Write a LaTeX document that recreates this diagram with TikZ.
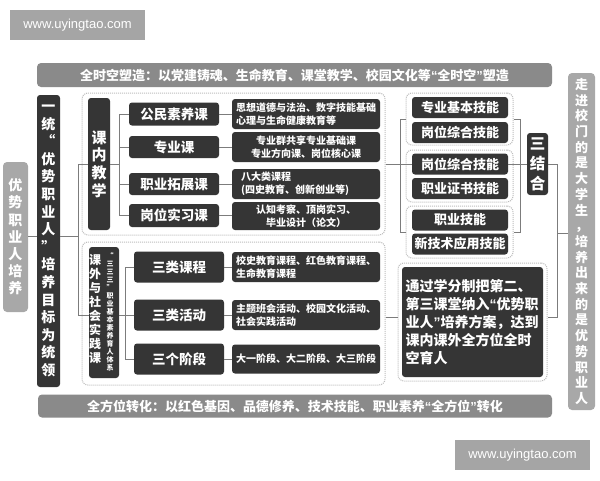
\documentclass[tikz,border=0pt]{standalone}
\usepackage{fontspec}
\setmainfont{Noto Sans CJK SC}
\newfontfamily\wmfont{Liberation Sans}
\newcommand\myqo{{\wmfont\bfseries “}}
\newcommand\myqc{{\wmfont\bfseries ”}}
\definecolor{dk}{HTML}{353535}
\definecolor{bn}{HTML}{8A8A8A}
\definecolor{lt}{HTML}{A8A8A8}
\definecolor{wm}{HTML}{A5A5A5}
\definecolor{ln}{HTML}{7C7C7C}
\definecolor{gp}{HTML}{BDBDBD}
\begin{document}
\begin{tikzpicture}[x=1pt,y=-1pt,
  dark/.style={fill=dk, rounded corners=3pt, text=white, inner sep=0pt, align=center},
  banner/.style={fill=bn, rounded corners=4pt, text=white, inner sep=0pt, font=\fontsize{13}{15}\selectfont\bfseries},
  light/.style={fill=lt, rounded corners=4pt, text=white, inner sep=0pt, align=center},
  wmbox/.style={fill=wm, text=white, inner sep=0pt, font=\wmfont\fontsize{13}{15}\selectfont},
  conn/.style={draw=ln, line width=0.9pt},
  grp/.style={draw=gp, densely dotted, line width=1pt, rounded corners=6pt, inner sep=0pt},
  course/.style={dark, minimum width=90, font=\fontsize{13.5}{16}\selectfont\bfseries},
  detail/.style={dark, minimum width=148, minimum height=30, font=\fontsize{10}{13}\selectfont\bfseries},
  skill/.style={dark, minimum width=96, minimum height=21, font=\fontsize{13}{15}\selectfont\bfseries},
  vtxt/.style={text=white, align=center, inner sep=0pt}
]
\useasboundingbox[fill=white] (0,0) rectangle (600,480);

% watermarks
\node[wmbox, minimum width=135, minimum height=30] (wm1) at (77.5,25) {www.uyingtao.com};
\node[wmbox, minimum width=135, minimum height=30] (wm2) at (522.5,455) {www.uyingtao.com};

% banners
\node[banner, minimum width=515, minimum height=24] (top) at (294.5,75) {全时空塑造：以党建铸魂、生命教育、课堂教学、校园文化等\myqo 全时空\myqc 塑造};
\node[banner, minimum width=514, minimum height=23] (bot) at (295,406) {全方位转化：以红色基因、品德修养、技术技能、职业素养\myqo 全方位\myqc 转化};

% left columns
\node[light, minimum width=25, minimum height=150, font=\fontsize{14}{17.2}\selectfont\bfseries] (lb) at (15.5,237) {优\\势\\职\\业\\人\\培\\养};
\node[dark, minimum width=23, minimum height=292, font=\fontsize{14}{17.6}\selectfont\bfseries] (dc) at (48.5,241) {一\\统\\“\\优\\势\\职\\业\\人\\”\\培\\养\\目\\标\\为\\统\\领};

% right column
\node[light, minimum width=27, minimum height=337, font=\fontsize{13}{15.7}\selectfont\bfseries] (rc) at (581.5,241.5) {走\\进\\校\\门\\的\\是\\大\\学\\生\\，\\培\\养\\出\\来\\的\\是\\优\\势\\职\\业\\人};

% containers
\node[grp, minimum width=303, minimum height=142] (k1) at (233.5,164) {};
\node[grp, minimum width=303, minimum height=143] (k2) at (233.5,313.5) {};

% upper group
\node[dark, minimum width=22, minimum height=132, font=\fontsize{15}{17.7}\selectfont\bfseries] (kn) at (99,164) {课\\内\\教\\学};
\node[course, minimum height=23] (co1) at (174,114) {公民素养课};
\node[course, minimum height=22] (co2) at (174,147) {专业课};
\node[course, minimum height=22] (co3) at (174,184) {职业拓展课};
\node[course, minimum height=23] (co4) at (174,215.5) {岗位实习课};
\node[detail, text width=140, align=left] (de1) at (306,114) {思想道德与法治、数字技能基础\\心理与生命健康教育等};
\node[detail] (de2) at (306,147) {专业群共享专业基础课\\专业方向课、岗位核心课};
\node[detail, text width=130, align=left] (de3) at (306,184) {八大类课程\\(四史教育、创新创业等)};
\node[detail, minimum height=28] (de4) at (306,216) {认知考察、顶岗实习、\\毕业设计（论文）};

% lower group
\node[dark, minimum width=30, minimum height=131] (kw) at (104,312.5) {};
\node[vtxt, font=\fontsize{12}{13.9}\selectfont\bfseries] (kwa) at (95,309) {课\\外\\与\\社\\会\\实\\践\\课};
\node[vtxt, font=\fontsize{7}{8}\selectfont\bfseries] (kwb) at (110,312) {“\\三\\三\\三\\”\\职\\业\\基\\本\\素\\养\\育\\人\\体\\系};
\node[course, minimum height=31] (cl1) at (179,267) {三类课程};
\node[course, minimum height=31] (cl2) at (179,315) {三类活动};
\node[course, minimum height=31] (cl3) at (179,359) {三个阶段};
\node[detail, text width=140, align=left] (dl1) at (306,267) {校史教育课程、红色教育课程、\\生命教育课程};
\node[detail, text width=140, align=left] (dl2) at (306,315) {主题班会活动、校园文化活动、\\社会实践活动};
\node[detail, text width=140, align=left, minimum height=29] (dl3) at (306,359) {大一阶段、大二阶段、大三阶段};

% skills
\node[grp, minimum width=107, minimum height=52] (g1) at (459.5,119) {};
\node[grp, minimum width=107, minimum height=52] (g2) at (459.5,176) {};
\node[grp, minimum width=107, minimum height=52] (g3) at (459.5,232) {};
\node[skill] (s1) at (460,107.5) {专业基本技能};
\node[skill] (s2) at (460,132.5) {岗位综合技能};
\node[skill] (s3) at (460,164) {岗位综合技能};
\node[skill] (s4) at (460,188.5) {职业证书技能};
\node[skill] (s5) at (460,220) {职业技能};
\node[skill] (s6) at (460,244) {新技术应用技能};
\node[dark, minimum width=21, minimum height=62, font=\fontsize{15.5}{20}\selectfont\bfseries] (sj) at (537.5,164) {三\\结\\合};

% big box
\node[grp, minimum width=149, minimum height=118] (bo) at (472.5,322) {};
\node[dark, minimum width=141, minimum height=110, text width=134, align=left, font=\fontsize{14}{18}\selectfont\bfseries] (bb) at (472.5,322) {通过学分制把第二、\\第三课堂纳入\myqo 优势职\\业人\myqc 培养方案，达到\\课内课外全方位全时\\空育人};

% connector coordinates
\coordinate (bm) at (78,236);
\coordinate (b1) at (78,164);
\coordinate (b2) at (78,315);
\coordinate (c1) at (119,114);
\coordinate (cm) at (119,164);
\coordinate (c4) at (119,215.5);
\coordinate (e1) at (125,267);
\coordinate (em) at (125,315);
\coordinate (e3) at (125,359);
\coordinate (l1) at (400,119);
\coordinate (l3) at (400,232);
\coordinate (r1) at (520,119);
\coordinate (r3) at (520,232);
\coordinate (v1) at (557,164);
\coordinate (vm) at (557,233);
\coordinate (v2) at (557,317);

% connectors
\draw[conn] (lb.east |- bm) -- (dc.west |- bm);
\draw[conn] (dc.east |- bm) -- (bm);
\draw[conn] (b1) -- (b2);
\draw[conn] (b1) -- (kn.west |- b1);
\draw[conn] (b2) -- (kw.west |- b2);

\draw[conn] (kn.east |- cm) -- (cm);
\draw[conn] (c1) -- (c4);
\draw[conn] (c1) -- (co1.west);
\draw[conn] (c1 |- co2) -- (co2.west);
\draw[conn] (c1 |- co3) -- (co3.west);
\draw[conn] (c4) -- (co4.west);
\draw[conn] (co1.east) -- (de1.west |- co1);
\draw[conn] (co2.east) -- (de2.west |- co2);
\draw[conn] (co3.east) -- (de3.west |- co3);
\draw[conn] (co4.east) -- (de4.west |- co4);

\draw[conn] (kw.east |- em) -- (em);
\draw[conn] (e1) -- (e3);
\draw[conn] (e1) -- (cl1.west);
\draw[conn] (em) -- (cl2.west);
\draw[conn] (e3) -- (cl3.west);
\draw[conn] (cl1.east) -- (dl1.west |- cl1);
\draw[conn] (cl2.east) -- (dl2.west |- cl2);
\draw[conn] (cl3.east) -- (dl3.west |- cl3);

\draw[conn] (k1.east |- s3) -- (s3.west);
\draw[conn] (l1) -- (l3);
\draw[conn] (l1) -- (g1.west);
\draw[conn] (l3) -- (g3.west);
\draw[conn] (g1.east) -- (r1) -- (r3) -- (g3.east);
\draw[conn] (s3.east) -- (sj.west);
\draw[conn] (sj.east) -- (v1) -- (v2) -- (bo.east |- v2);
\draw[conn] (vm) -- (rc.west |- vm);
\draw[conn] (k2.east |- v2) -- (bo.west |- v2);
\end{tikzpicture}
\end{document}
